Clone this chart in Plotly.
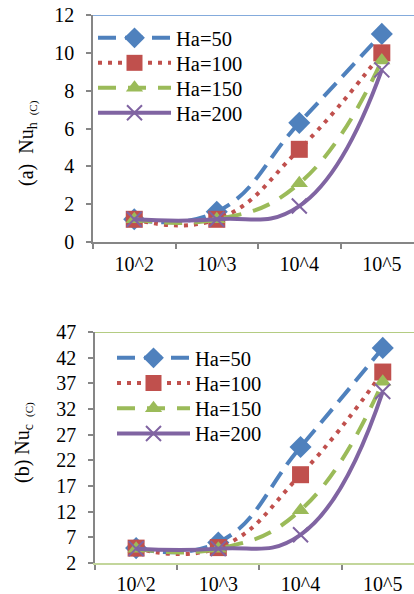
import plotly.graph_objects as go

categories = ["10^2", "10^3", "10^4", "10^5"]
series_names = ["Ha=50", "Ha=100", "Ha=150", "Ha=200"]

nu_h = {
    "Ha=50": [1.2, 1.6, 6.3, 11.0],
    "Ha=100": [1.2, 1.2, 4.9, 10.0],
    "Ha=150": [1.2, 1.2, 3.1, 9.6],
    "Ha=200": [1.2, 1.2, 1.9, 9.1],
}
nu_c = {
    "Ha=50": [4.9, 6.0, 24.6, 43.9],
    "Ha=100": [4.9, 5.0, 19.2, 39.2],
    "Ha=150": [4.8, 4.8, 12.3, 37.3],
    "Ha=200": [4.8, 4.8, 7.5, 35.4],
}

colors = {"Ha=50": "#4F81BD", "Ha=100": "#C0504D", "Ha=150": "#9BBB59", "Ha=200": "#8064A2"}
dashes = {"Ha=50": "18px,9px", "Ha=100": "4px,6px", "Ha=150": "18px,12px", "Ha=200": "solid"}
symbols = {"Ha=50": "diamond", "Ha=100": "square", "Ha=150": "triangle-up", "Ha=200": "x-thin-open"}
msizes = {"Ha=50": 17, "Ha=100": 17, "Ha=150": 15, "Ha=200": 15}

W, H = 414, 594
FONT = "Liberation Serif"
FS = 20
xs = list(range(len(categories)))

# legend placement (pixels): sample start x, first item centre y, item step
legend_pos = {1: (93, 38, 25), 2: (112, 358, 25.2)}

fig = go.Figure()
legends = {}
k = 0
for panel, data in ((1, nu_h), (2, nu_c)):
    lx, ly, step = legend_pos[panel]
    for i, name in enumerate(series_names):
        k += 1
        lname = "legend" if k == 1 else f"legend{k}"
        legends[lname] = dict(
            x=lx / W, y=1 - (ly + step * i) / H, xanchor="left", yanchor="middle",
            bgcolor="rgba(0,0,0,0)", itemwidth=73, borderwidth=0,
            font=dict(family=FONT, size=20.5, color="black"),
        )
        c = colors[name]
        marker = dict(symbol=symbols[name], size=msizes[name], color=c)
        if symbols[name] == "x-thin-open":
            marker["line"] = dict(color=c, width=2)
        fig.add_trace(go.Scatter(
            x=xs, y=data[name], name=name, mode="lines+markers",
            line=dict(color=c, width=4, dash=dashes[name], shape="spline", smoothing=1.3),
            marker=marker,
            xaxis="x" if panel == 1 else "x2",
            yaxis="y" if panel == 1 else "y2",
            legend=lname,
        ))

axis_gray = "#868686"
tickfont = dict(family=FONT, size=FS, color="black")

def xaxis_def(domain, anchor, linecolor, rmax, standoff):
    return dict(
        domain=domain, anchor=anchor, range=[-0.5, rmax], automargin=False,
        tickvals=xs, ticktext=categories, ticks="", showgrid=False, zeroline=False,
        showline=True, linecolor=linecolor, linewidth=1.5,
        tickfont=tickfont, ticklabelstandoff=standoff,
        minor=dict(tickvals=[-0.5, 0.5, 1.5, 2.5, 3.5], ticks="outside", ticklen=5,
                   tickcolor=axis_gray, tickwidth=1.5, showgrid=False),
        fixedrange=True,
    )

def yaxis_def(domain, anchor, rng, dtick):
    return dict(
        domain=domain, anchor=anchor, range=rng, dtick=dtick, tick0=rng[0],
        automargin=False,
        ticks="outside", ticklen=5, tickcolor=axis_gray, tickwidth=1.5,
        showline=True, linecolor=axis_gray, linewidth=1.5,
        showgrid=False, zeroline=False, tickfont=tickfont, ticklabelstandoff=8,
        fixedrange=True,
    )

fig.update_layout(
    width=W, height=H,
    margin=dict(l=0, r=0, t=0, b=0, autoexpand=False),
    paper_bgcolor="white", plot_bgcolor="white",
    font=dict(family=FONT, color="black", size=FS),
    xaxis=xaxis_def([93 / W, 1], "y", axis_gray, 3.39, 3),
    yaxis=yaxis_def([1 - 242 / H, 1 - 15 / H], "x", [0, 12], 2),
    xaxis2=xaxis_def([95 / W, 1], "y2", "#C3D69B", 3.38, 2),
    yaxis2=yaxis_def([1 - 563 / H, 1 - 332 / H], "x2", [2, 47], 5),
    showlegend=True,
    **legends,
)

# top border lines of the plot areas
fig.add_shape(type="line", xref="x domain", yref="y", x0=-0.015, x1=1, y0=12, y1=12,
              line=dict(color="#5B8FD0", width=1.5), layer="below")
fig.add_shape(type="line", xref="x2 domain", yref="y2", x0=0, x1=1, y0=47, y1=47,
              line=dict(color="#9BBB59", width=1.5), layer="below")

# rotated y-axis titles
fig.add_annotation(
    text="(a)  Nu<sub>h  <span style='font-size:11px'>(C)</span></sub>",
    xref="paper", yref="paper", x=28 / W, y=1 - 143 / H, textangle=-90,
    xanchor="center", yanchor="middle",
    showarrow=False, font=dict(family=FONT, size=FS, color="black"),
)
fig.add_annotation(
    text="(b) Nu<sub>c  <span style='font-size:11px'>(C)</span></sub>",
    xref="paper", yref="paper", x=23 / W, y=1 - 443 / H, textangle=-90,
    xanchor="center", yanchor="middle",
    showarrow=False, font=dict(family=FONT, size=FS, color="black"),
)

fig.write_html("out.html")
